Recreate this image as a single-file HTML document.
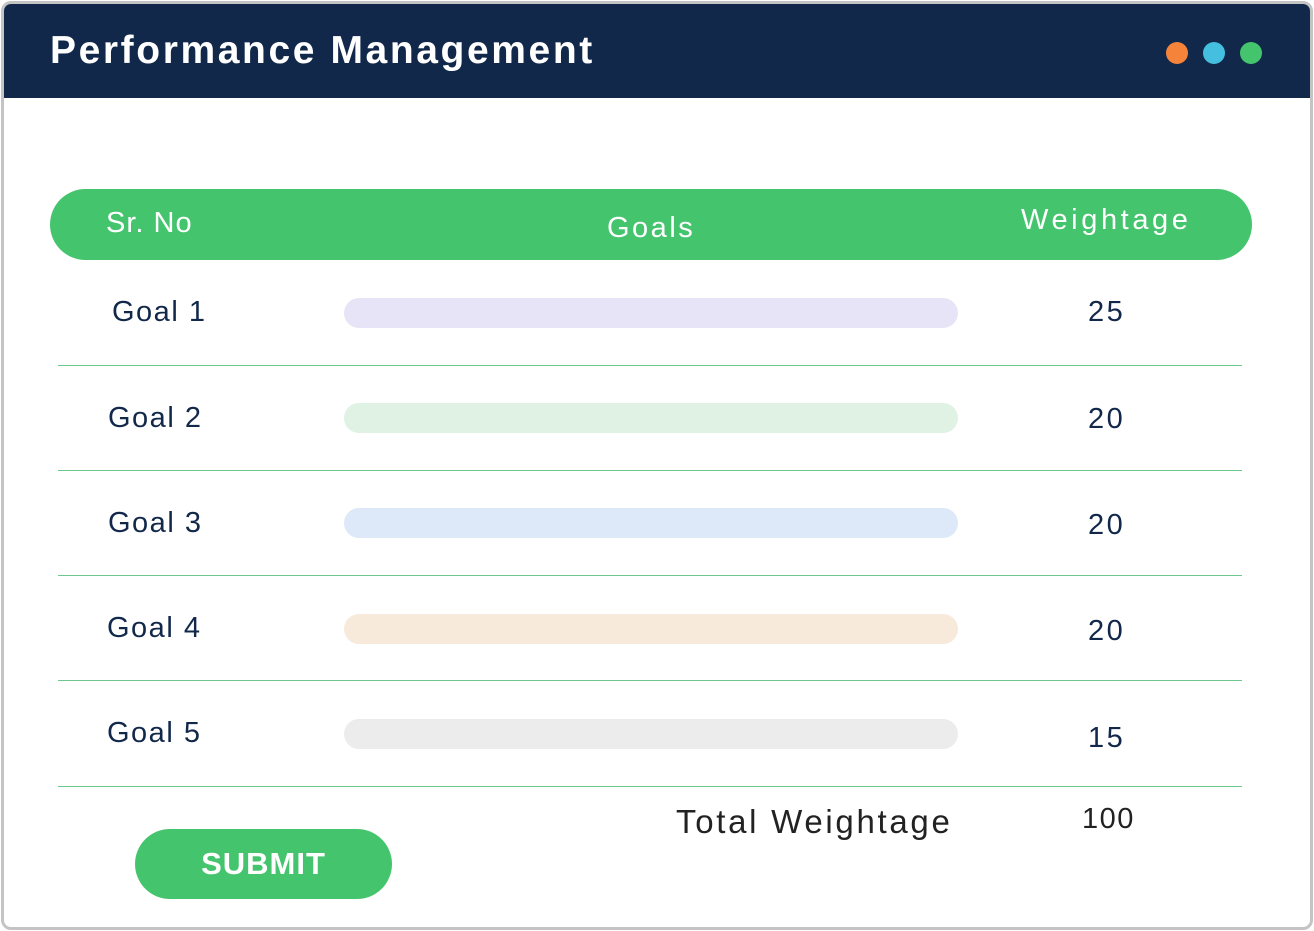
<!DOCTYPE html>
<html><head><style>
*{margin:0;padding:0;box-sizing:border-box}
body{width:1314px;height:931px;background:#fff;position:relative;overflow:hidden;font-family:"Liberation Sans",sans-serif}
.frame{position:absolute;left:1px;top:1px;width:1312px;height:929px;border:3px solid #c4c4c4;border-radius:10px;overflow:hidden;background:#fff}
.hdr{position:absolute;left:0;top:0;width:100%;height:94px;background:#12284a}
.t{position:absolute;color:#fff;font-weight:bold;font-size:39px;left:46px;top:25px;letter-spacing:2.6px}
.dot{position:absolute;width:22px;height:22px;border-radius:50%;top:38px}
.a{position:absolute;white-space:nowrap}
.bar{position:absolute;left:344px;width:614px;height:30px;border-radius:15px}
.line{position:absolute;left:58px;width:1184px;height:1px;background:#6cc78c}
.g{font-size:29px;color:#12284a;letter-spacing:1.5px}
.n{font-size:29px;color:#12284a;letter-spacing:2.5px}
</style></head><body>
<div class="frame">
<div class="hdr"><div class="t">Performance Management</div>
<div class="dot" style="left:1162px;background:#f5843a"></div>
<div class="dot" style="left:1199px;background:#45bfe0"></div>
<div class="dot" style="left:1236px;background:#44c46c"></div>
</div>
</div>
<div class="a" style="left:50px;top:189px;width:1202px;height:71px;border-radius:36px;background:#45c46e"></div>
<div class="a" style="left:106px;top:207px;color:#fff;font-size:29px;letter-spacing:1px">Sr. No</div>
<div class="a" style="left:607px;top:212px;color:#fff;font-size:29px;letter-spacing:2.5px">Goals</div>
<div class="a" style="left:1021px;top:204px;color:#fff;font-size:29px;letter-spacing:3.6px">Weightage</div>

<div class="a g" style="left:112px;top:296px">Goal 1</div>
<div class="bar" style="top:298px;background:#e8e4f8"></div>
<div class="a n" style="left:1088px;top:296px">25</div>
<div class="line" style="top:365px"></div>

<div class="a g" style="left:108px;top:402px">Goal 2</div>
<div class="bar" style="top:403px;background:#dff2e3"></div>
<div class="a n" style="left:1088px;top:403px">20</div>
<div class="line" style="top:470px"></div>

<div class="a g" style="left:108px;top:507px">Goal 3</div>
<div class="bar" style="top:508px;background:#dde8f8"></div>
<div class="a n" style="left:1088px;top:509px">20</div>
<div class="line" style="top:575px"></div>

<div class="a g" style="left:107px;top:612px">Goal 4</div>
<div class="bar" style="top:614px;background:#f7eadb"></div>
<div class="a n" style="left:1088px;top:615px">20</div>
<div class="line" style="top:680px"></div>

<div class="a g" style="left:107px;top:717px">Goal 5</div>
<div class="bar" style="top:719px;background:#ececec"></div>
<div class="a n" style="left:1088px;top:722px">15</div>
<div class="line" style="top:786px"></div>

<div class="a" style="left:676px;top:803px;font-size:33px;color:#222;letter-spacing:2.7px">Total Weightage</div>
<div class="a" style="left:1082px;top:803px;font-size:29px;color:#222;letter-spacing:1.5px">100</div>
<div class="a" style="left:135px;top:829px;width:257px;height:70px;border-radius:35px;background:#45c46e;color:#fff;font-size:31px;font-weight:bold;text-align:center;line-height:70px;letter-spacing:1px">SUBMIT</div>
</body></html>
